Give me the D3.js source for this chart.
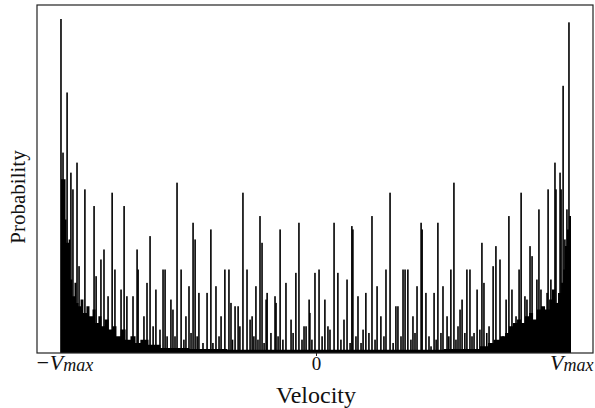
<!DOCTYPE html>
<html>
<head>
<meta charset="utf-8">
<script src="https://cdn.jsdelivr.net/npm/d3@7"></script>
<style>
  html, body { margin: 0; padding: 0; background: #fff; }
  svg { display: block; }
  text { font-family: "Liberation Serif", "DejaVu Serif", serif; fill: #111; }
</style>
</head>
<body>
<svg id="chart" width="595" height="408"></svg>
<script>
// velocity in % of Vmax, probability in % of the largest peak
const spikeVelocity = [
  -100.4, -99.6, -98.0, -96.5, -95.7, -94.1, -93.3, -91.0, -87.4, -86.6,
  -84.7, -83.5, -81.9, -80.3, -79.2, -76.8, -75.6, -74.5, -72.1, -70.5,
  -70.1, -67.8, -66.6, -65.4, -63.1, -60.3, -59.5, -57.2, -56.4, -54.8,
  -53.2, -51.3, -50.1, -48.5, -47.7, -46.2, -43.0, -41.5, -39.5, -37.5,
  -36.0, -34.4, -33.6, -32.0, -30.8, -28.9, -27.3, -25.3, -23.8, -22.2,
  -21.4, -19.8, -19.4, -17.9, -16.3, -15.9, -14.3, -12.0, -10.0, -8.1,
  -6.9, -4.9, -4.1, -2.9, -2.6, -0.6,
  1.0, 3.3, 4.5, 5.3, 6.9, 8.4, 10.8, 12.0, 13.9, 14.3,
  16.3, 18.3, 19.4, 21.8, 23.8, 25.3, 27.3, 28.9, 31.2, 32.0,
  34.0, 34.8, 35.9, 37.9, 39.5, 41.1, 41.5, 43.0, 45.0, 46.2,
  47.7, 49.7, 51.3, 52.8, 54.0, 55.6, 56.4, 57.2, 59.1, 60.3,
  61.9, 63.1, 65.0, 65.8, 67.8, 69.4, 70.5, 72.1, 73.3, 74.5,
  75.6, 76.8, 78.4, 79.6, 80.4, 81.9, 82.7, 83.9, 84.7, 86.6,
  87.4, 88.2, 90.6, 91.0, 92.1, 93.7, 94.1, 94.9, 95.7, 96.1,
  96.9, 97.6, 98.4, 99.2, 99.6
];
const spikeProb = [
  100, 60, 78, 54, 49, 57, 26, 49, 44, 23,
  28, 31, 17, 48, 25, 19, 44, 17, 17, 31,
  25, 11, 21, 35, 19, 25, 25, 16, 13, 51,
  25, 11, 20, 39, 34, 18, 18, 37, 20, 11,
  25, 25, 15, 14, 14, 48, 25, 11, 20, 41,
  33, 16, 18, 6, 17, 15, 37, 21, 10, 24,
  39, 8, 8, 16, 12, 24,
  25, 16, 8, 7, 39, 24, 10, 22, 38, 37,
  17, 7, 18, 41, 20, 11, 25, 48, 14, 14,
  25, 25, 25, 11, 20, 39, 37, 18, 2, 18,
  39, 20, 11, 25, 51, 8, 13, 16, 25, 25,
  6, 19, 33, 21, 8, 26, 32, 28, 5, 16,
  41, 19, 11, 25, 48, 17, 16, 32, 29, 22,
  43, 19, 18, 49, 22, 57, 49, 15, 54, 49,
  80, 34, 43, 99, 41
];

// small spikes between the big ones
const minorVelocity = [
  -64.2, -61.5, -58.7, -55.6, -52.1, -49.3, -46.9, -44.6, -40.7, -38.3,
  -33.0, -30.1, -26.1, -24.6, -23.0, -20.6, -15.1, -13.2, -9.2, -5.7,
  -1.8, 2.2, 9.6, 13.2, 15.5, 17.5, 20.6, 23.0, 26.5, 30.1,
  33.2, 37.1, 38.7, 44.2, 47.0, 48.9, 52.0, 54.8, 58.3, 61.1,
  64.2, 66.9
];
const minorProb = [
  8, 7, 5, 5, 4, 6, 5, 3, 3, 5,
  4, 8, 10, 5, 4, 3, 5, 4, 6, 4,
  4, 5, 4, 3, 5, 3, 6, 4, 5, 3,
  5, 4, 6, 5, 4, 6, 5, 4, 6, 5,
  7, 6
];

// dense low background of the histogram
const floorVelocity = [
  -100.4, -99.4, -98.6, -98.2, -97.4, -96.7, -95.9, -95.1, -94.3, -93.5,
  -92.7, -91.6, -90.4, -89.2, -88.0, -86.8, -85.7, -84.5, -83.3, -81.7,
  -80.1, -78.6, -77.0, -75.0, -73.1, -71.1, -69.2, -66.0, -61.3, -50,
  -35, -20, 0, 20, 35, 50, 64.2, 67.4, 69.7, 72.1,
  74.1, 75.6, 77.2, 78.8, 80.4, 81.9, 83.5, 85.1, 86.6, 88.2,
  89.8, 91.4, 92.5, 93.7, 94.9, 96.1, 96.9, 97.6, 98.4, 99.2,
  100
];
const floorProb = [
  52, 52, 40, 33, 34, 22, 17, 21, 15, 14,
  16, 12, 14, 11, 13, 9, 11, 8, 10, 7,
  8, 5, 7, 4, 5, 3, 4, 2.5, 1.5, 1.2,
  1, 1, 1, 1, 1, 1.2, 2, 3, 4, 5,
  6, 8, 9, 10, 9, 11, 12, 10, 13, 14,
  13, 16, 19, 15, 18, 21, 25, 32, 37, 41,
  0
];

const xTicks = [-100, 0, 100];
const xTickLabels = ["\u2212V", "0", "V"];

const svg = d3.select("#chart");
const frame = { left: 37, right: 593, top: 5, bottom: 353 };

const x = d3.scaleLinear().domain([-100, 100]).range([62, 571]);
const y = d3.scaleLinear().domain([0, 100]).range([frame.bottom, 19]);

// background fill
const floorData = floorVelocity.map((v, i) => ({ v: v, p: floorProb[i] }));
svg.append("path")
  .datum(floorData)
  .attr("fill", "#000")
  .attr("d", d3.area()
    .x(d => x(d.v))
    .y0(y(0))
    .y1(d => y(d.p))
    .curve(d3.curveStepAfter));

// spikes, big and small
const spikes = spikeVelocity.map((v, i) => ({ v: v, p: spikeProb[i] }))
  .concat(minorVelocity.map((v, i) => ({ v: v, p: minorProb[i] })));
svg.append("g")
  .selectAll("rect")
  .data(spikes)
  .enter().append("rect")
    .attr("x", d => x(d.v) - 0.8)
    .attr("width", 1.6)
    .attr("y", d => y(d.p))
    .attr("height", d => y(0) - y(d.p))
    .attr("fill", "#000");

// frame
svg.append("rect")
  .attr("x", frame.left)
  .attr("y", frame.top)
  .attr("width", frame.right - frame.left)
  .attr("height", frame.bottom - frame.top)
  .attr("fill", "none")
  .attr("stroke", "#222")
  .attr("stroke-width", 1.2);

// small tick at 0
svg.append("line")
  .attr("x1", x(0)).attr("x2", x(0))
  .attr("y1", frame.bottom).attr("y2", frame.bottom + 3)
  .attr("stroke", "#222");

// tick labels
xTicks.forEach(function(t, i) {
  const txt = svg.append("text")
    .attr("y", 370)
    .attr("font-size", 19);
  if (t === 0) {
    txt.attr("x", x(t)).attr("text-anchor", "middle").text(xTickLabels[i]);
  } else {
    txt.attr("x", t < 0 ? x(t) - 27 : x(t) - 21).attr("text-anchor", "start");
    txt.append("tspan").attr("font-style", "italic").attr("font-size", 22).text(xTickLabels[i]);
    txt.append("tspan").attr("font-style", "italic").attr("font-size", 18)
      .attr("dy", 1).text("max");
  }
});

svg.append("text")
  .attr("x", 316)
  .attr("y", 403)
  .attr("font-size", 24)
  .attr("text-anchor", "middle")
  .text("Velocity");

svg.append("text")
  .attr("transform", "translate(25,197) rotate(-90)")
  .attr("font-size", 21)
  .attr("text-anchor", "middle")
  .text("Probability");
</script>
</body>
</html>
